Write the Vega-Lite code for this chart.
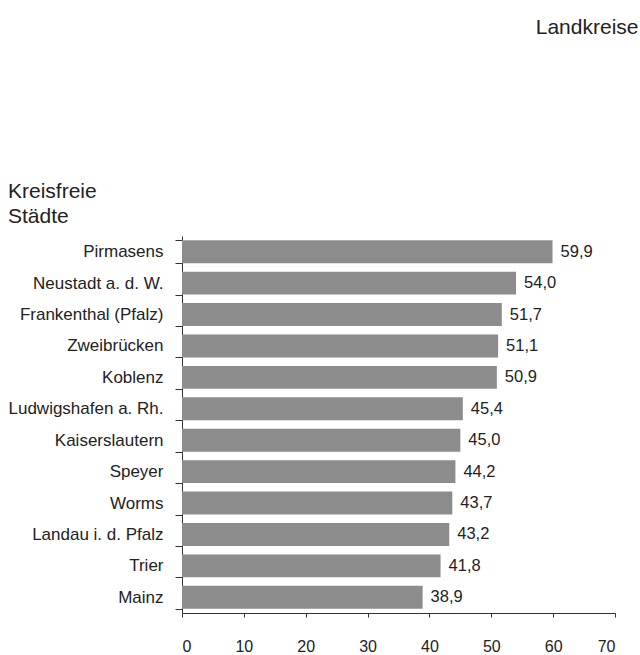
{
  "$schema": "https://vega.github.io/schema/vega-lite/v6.json",
  "padding": {"left": 8, "top": 17, "right": 3, "bottom": 0},
  "background": "white",
  "title": {"text": "Landkreise", "anchor": "end", "frame": "bounds", "fontSize": 21, "font": "Liberation Sans", "fontWeight": "normal", "color": "#222222", "offset": 143, "dx": 23},
  "vconcat": [
    {
      "width": 433,
      "height": 377,
      "title": {"text": ["Kreisfreie", "Städte"], "anchor": "start", "frame": "bounds", "fontSize": 21, "font": "Liberation Sans", "fontWeight": "normal", "color": "#222222", "lineHeight": 25, "offset": 0},
      "data": {
        "values": [
          {"Stadt": "Pirmasens", "Wert": 59.9},
          {"Stadt": "Neustadt a. d. W.", "Wert": 54.0},
          {"Stadt": "Frankenthal (Pfalz)", "Wert": 51.7},
          {"Stadt": "Zweibrücken", "Wert": 51.1},
          {"Stadt": "Koblenz", "Wert": 50.9},
          {"Stadt": "Ludwigshafen a. Rh.", "Wert": 45.4},
          {"Stadt": "Kaiserslautern", "Wert": 45.0},
          {"Stadt": "Speyer", "Wert": 44.2},
          {"Stadt": "Worms", "Wert": 43.7},
          {"Stadt": "Landau i. d. Pfalz", "Wert": 43.2},
          {"Stadt": "Trier", "Wert": 41.8},
          {"Stadt": "Mainz", "Wert": 38.9}
        ]
      },
      "encoding": {
        "y": {
          "field": "Stadt", "type": "nominal", "sort": "-x", "title": null,
          "scale": {"paddingInner": 0.27, "paddingOuter": 0.135},
          "axis": {"domainColor": "#333333", "tickColor": "#333333", "tickBand": "extent", "tickSize": 7, "labelPadding": 12, "labelFontSize": 17, "labelFont": "Liberation Sans", "labelColor": "#222222"}
        },
        "x": {
          "field": "Wert", "type": "quantitative", "title": null,
          "scale": {"domain": [0, 70], "nice": false},
          "axis": {"values": [0, 10, 20, 30, 40, 50, 60, 70], "grid": false, "domainColor": "#333333", "tickColor": "#333333", "tickSize": 4, "labelPadding": 21, "labelFontSize": 16, "labelFont": "Liberation Sans", "labelColor": "#222222"}
        }
      },
      "layer": [
        {"mark": {"type": "bar", "color": "#8c8c8c"}},
        {
          "mark": {"type": "text", "align": "left", "baseline": "middle", "dx": 8, "fontSize": 16.5, "font": "Liberation Sans", "color": "#222222"},
          "encoding": {"text": {"field": "Wert", "type": "quantitative", "format": ".1f"}}
        }
      ]
    }
  ],
  "config": {
    "view": {"stroke": null},
    "locale": {"number": {"decimal": ",", "thousands": ".", "grouping": [3], "currency": ["", " €"]}}
  }
}
